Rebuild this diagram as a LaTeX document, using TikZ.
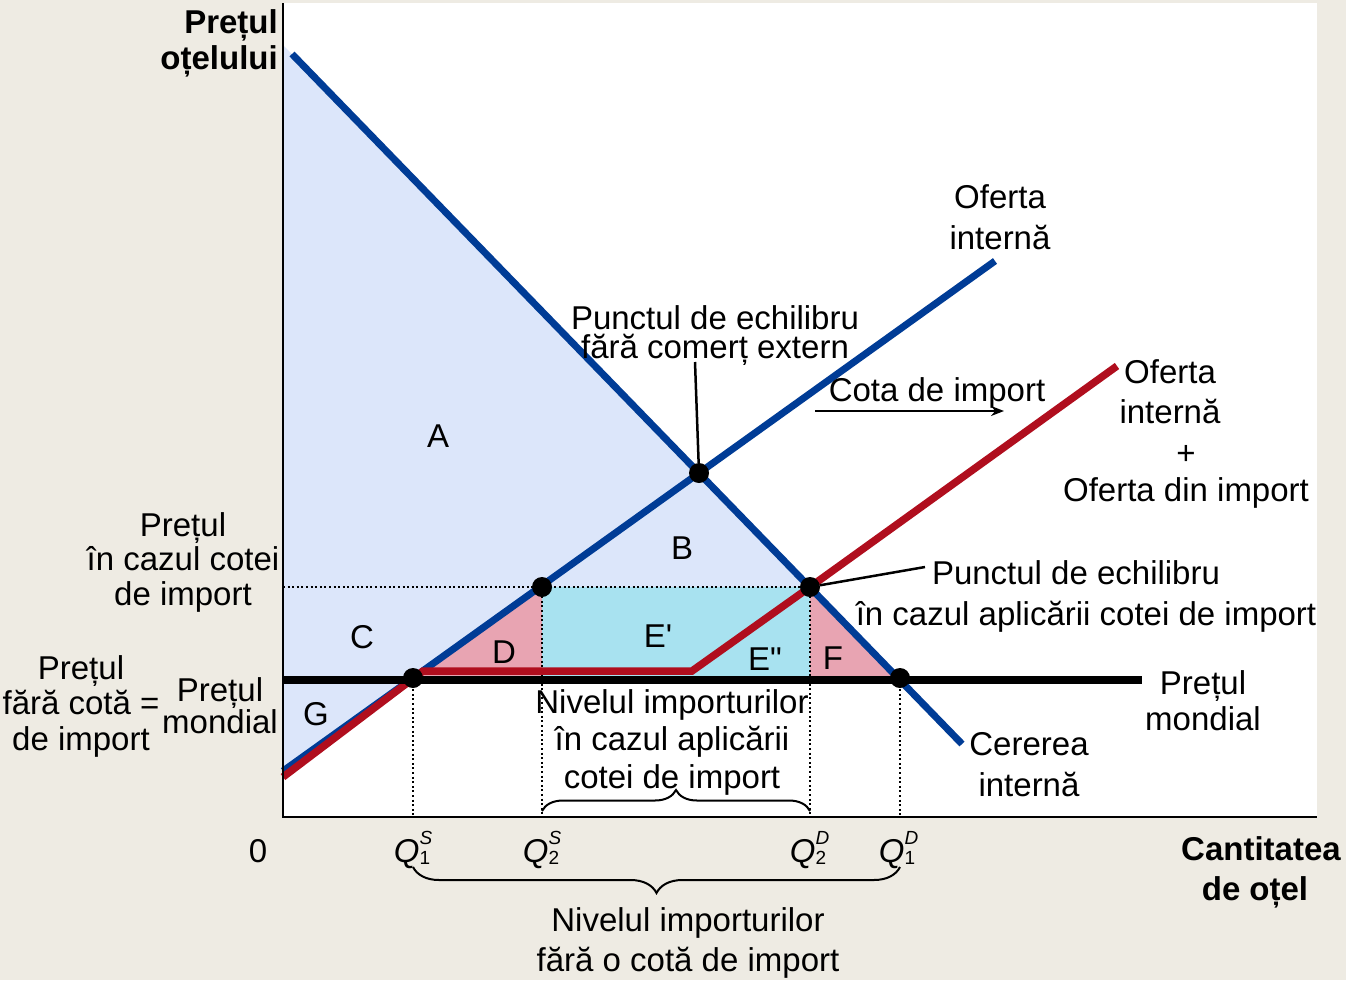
\documentclass[tikz,border=0pt]{standalone}
\usepackage{fontspec}
\setmainfont{Liberation Sans}[Ligatures=TeXOff]
\usetikzlibrary{decorations.pathreplacing,arrows.meta}
\definecolor{bg}{RGB}{238,235,227}
\definecolor{csurp}{RGB}{220,230,250}
\definecolor{pinkfill}{RGB}{232,164,178}
\definecolor{cyanfill}{RGB}{168,226,240}
\definecolor{bluecurve}{RGB}{0,60,150}
\definecolor{redcurve}{RGB}{176,14,30}
\newcommand{\Qlab}[2]{\textit{Q}\makebox[0pt][l]{\raisebox{0.52em}{\fontsize{19}{19}\selectfont\textit{#1}}}{\fontsize{19}{19}\selectfont\raisebox{-0.12em}{#2}}}
\begin{document}
\begin{tikzpicture}[x=1pt,y=-1pt,
  lbl/.style={font=\fontsize{33}{35}\selectfont, inner sep=0pt, align=center, text=black},
  blbl/.style={lbl, font=\fontsize{33}{36}\selectfont\bfseries},
  curveblue/.style={draw=bluecurve, line width=7pt},
  curvered/.style={draw=redcurve, line width=7.5pt, line join=miter},
  worldline/.style={draw=black, line width=7.5pt},
  guide/.style={draw=black, line width=2pt, dash pattern=on 2pt off 2.6pt},
  axisline/.style={draw=black, line width=2.5pt},
  eqdot/.style={circle, fill=black, inner sep=0pt, minimum size=20pt},
  leader/.style={draw=black, line width=2.5pt},
  bracestyle/.style={draw=black, line width=2pt, decorate}
]
\useasboundingbox (0,0) rectangle (1346,980);
\fill[bg] (0,0) rectangle (1346,980);
\fill[white] (283,3) rectangle (1317,817);

% key coordinates
\coordinate (dA) at (292,54);
\coordinate (dB) at (962,744);
\coordinate (sA) at (283,771);
\coordinate (sB) at (995,261);
\coordinate (r0) at (283,777);
\coordinate (r1) at (423,671);
\coordinate (r2) at (692,671);
\coordinate (r3) at (810,587);
\coordinate (r4) at (1117,366);
\coordinate (w0) at (283,680);
\coordinate (w1) at (1142,680);

% fills
\fill[csurp] (283,45) -- (810,587) -- (542,587) -- (283,771) -- cycle;
\fill[pinkfill] (413,680) -- (542,587) -- (542,680) -- cycle;
\fill[cyanfill] (542,587) rectangle (810,680);
\fill[pinkfill] (810,587) -- (900,680) -- (810,680) -- cycle;

% guides
\coordinate (g0) at (283,587);
\coordinate (g1a) at (413,680); \coordinate (g1b) at (413,817);
\coordinate (g2a) at (542,587); \coordinate (g2b) at (542,817);
\coordinate (g3a) at (810,587); \coordinate (g3b) at (810,817);
\coordinate (g4a) at (900,680); \coordinate (g4b) at (900,817);
\draw[guide] (g0) -- (g3a);
\draw[guide] (g1a) -- (g1b);
\draw[guide] (g2a) -- (g2b);
\draw[guide] (g3a) -- (g3b);
\draw[guide] (g4a) -- (g4b);

% curves
\draw[curveblue] (dA) -- (dB);
\draw[curveblue] (sA) -- (sB);
\draw[curvered] (r0) -- (r1) -- (r2) -- (r3) -- (r4);
\draw[worldline] (w0) -- (w1);

% axes
\coordinate (o) at (283,817);
\draw[axisline] (283,3) -- (o) -- (1317,817);

% equilibrium dots
\node[eqdot] (e0) at (699,473) {};
\node[eqdot] (e1) at (413,678) {};
\node[eqdot] (e2) at (542,587) {};
\node[eqdot] (e3) at (810,587) {};
\node[eqdot] (e4) at (900,678) {};

% leaders
\coordinate (lead0) at (695,362);
\coordinate (lead1) at (925,567);
\draw[leader] (lead0) -- (e0);
\draw[leader] (lead1) -- (e3);

% quota arrow
\coordinate (qa) at (815,411);
\coordinate (qb) at (1004,411);
\draw[line width=2pt, -{Stealth[length=13pt,width=10pt]}] (qa) -- (qb);

% braces
\coordinate (b1a) at (542,811); \coordinate (b1b) at (810,811);
\draw[bracestyle, decoration={brace, amplitude=21pt}] (b1a) -- (b1b);
\coordinate (b2a) at (900,867); \coordinate (b2b) at (413,867);
\draw[bracestyle, decoration={brace, amplitude=26pt}] (b2a) -- (b2b);

% area letters
\node[lbl] (la) at (438,436) {A};
\node[lbl] (lb) at (682,548) {B};
\node[lbl] (lc) at (362,637) {C};
\node[lbl] (ld) at (504,652) {D};
\node[lbl] (le1) at (658,636) {E'};
\node[lbl] (le2) at (765,659) {E"};
\node[lbl] (lf) at (833,658) {F};
\node[lbl] (lg) at (316,714) {G};

% axis labels
\node[blbl, align=right, anchor=east, font=\fontsize{33}{36}\selectfont\bfseries] (ylab) at (278,43) {Prețul\\oțelului};
\node[blbl, font=\fontsize{33}{40}\selectfont\bfseries] (xlab) at (1261,872) {Cantitatea\\de oțel\hspace*{12pt}};
\node[lbl] (zero) at (258,851) {0};
\node[lbl] (q1s) at (412,850) {\Qlab{S}{1}};
\node[lbl] (q2s) at (541,850) {\Qlab{S}{2}};
\node[lbl] (q2d) at (808,850) {\Qlab{D}{2}};
\node[lbl] (q1d) at (897,850) {\Qlab{D}{1}};

% text labels
\node[lbl, font=\fontsize{33}{41}\selectfont] (of1) at (1000,217) {Oferta\\internă};
\node[lbl, font=\fontsize{33}{29}\selectfont] (pe0) at (715,336) {Punctul de echilibru\\fără comerț extern};
\node[lbl] (cota) at (937,393) {Cota de import};
\node[lbl, font=\fontsize{33}{40}\selectfont] (of2) at (1170,392) {Oferta\\internă};
\node[lbl, font=\fontsize{33}{37}\selectfont] (of3) at (1186,477) {+\\Oferta din import};
\node[lbl, font=\fontsize{33}{34.5}\selectfont] (pq) at (183,562) {Prețul\\în cazul cotei\\de import};
\node[lbl, font=\fontsize{33}{35.5}\selectfont] (pfc) at (81,706) {Prețul\\fără cotă =\\de import};
\node[lbl, font=\fontsize{33}{32}\selectfont] (pm1) at (220,706) {Prețul\\mondial};
\node[lbl, font=\fontsize{33}{36}\selectfont] (pm2) at (1203,701) {Prețul\\mondial};
\node[lbl, font=\fontsize{33}{41}\selectfont] (cer) at (1029,765) {Cererea\\internă};
\node[lbl, font=\fontsize{33}{41}\selectfont] (pe1) at (1086,596) {Punctul de echilibru\hspace*{20pt}\\în cazul aplicării cotei de import};
\node[lbl, font=\fontsize{33}{37.5}\selectfont] (ni1) at (672,742) {Nivelul importurilor\\în cazul aplicării\\cotei de import};
\node[lbl, font=\fontsize{33}{40}\selectfont] (ni2) at (688,943) {Nivelul importurilor\\fără o cotă de import};
\end{tikzpicture}
\end{document}
